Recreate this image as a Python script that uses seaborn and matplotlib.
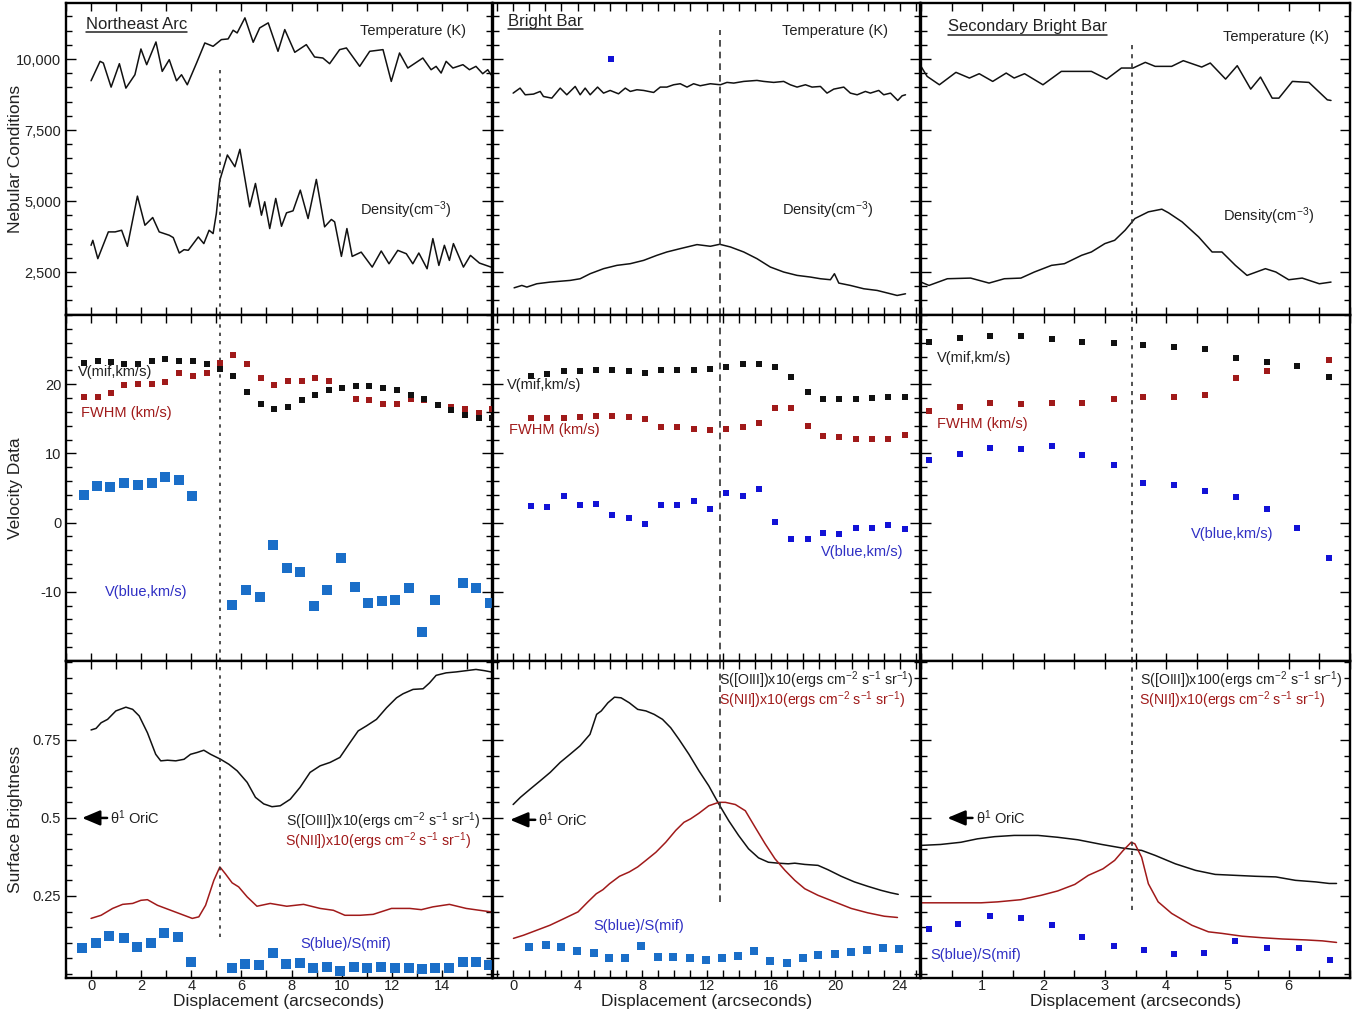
import matplotlib
matplotlib.use("Agg")
import matplotlib.pyplot as plt
import seaborn as sns
from matplotlib.ticker import MultipleLocator, FixedLocator, FuncFormatter
from matplotlib.lines import Line2D

# ---------------- data ----------------
# Row 1: nebular conditions
ne_temp_x = [0, 0.36, 0.49, 0.8, 1.13, 1.39, 1.75, 1.99, 2.22, 2.59, 2.84, 3.12, 3.41, 3.61, 3.84, 4.21, 4.54, 4.87, 5.2, 5.47,
             5.67, 5.83, 6.14, 6.47, 6.73, 7.07, 7.46, 7.73, 8.13, 8.59, 8.92, 9.25, 9.52, 9.92, 10.19, 10.72, 11.12, 11.65, 11.98, 12.31,
             12.64, 13.24, 13.57, 13.77, 13.97, 14.17, 14.44, 14.84, 15.1, 15.36, 15.63, 15.83, 15.96]
ne_temp_y = [9234, 9918, 9859, 9010, 9835, 8975, 9446, 10353, 9800, 10600, 9564, 9976, 9234, 9446, 9093, 9858, 10565, 10447, 10683, 10707,
             11013, 10918, 11449, 10589, 11095, 11272, 10271, 11036, 10236, 10506, 10071, 10035, 9835, 10330, 10389, 9741, 10271, 10330, 9211, 10212,
             9682, 10035, 9623, 9741, 9505, 9918, 9682, 9800, 9623, 9741, 9482, 9623, 9446]
ne_dens_x = [0, 0.07, 0.27, 0.69, 0.96, 1.22, 1.45, 1.85, 2.15, 2.46, 2.72, 3.12, 3.28, 3.52, 3.71, 3.88, 4.28, 4.5, 4.71, 4.87,
             5.0, 5.14, 5.44, 5.74, 5.94, 6.33, 6.56, 6.8, 6.93, 7.13, 7.37, 7.6, 7.8, 8.06, 8.35, 8.66, 8.99, 9.32, 9.59, 9.72,
             9.99, 10.21, 10.42, 10.78, 11.22, 11.58, 11.89, 12.24, 12.58, 12.84, 13.08, 13.41, 13.64, 13.88, 14.1, 14.3, 14.46, 14.86, 15.14, 15.5,
             15.96]
ne_dens_y = [3439, 3615, 2970, 3912, 3912, 3970, 3404, 5172, 4146, 4418, 3912, 3794, 3712, 3168, 3286, 3264, 3735, 3500, 3970, 3853,
             4560, 5735, 6620, 6207, 6820, 4795, 5618, 4500, 4972, 4030, 5090, 4110, 4583, 4654, 5383, 4382, 5760, 4090, 4350, 4265,
             3050, 4030, 3050, 3200, 2673, 3240, 2790, 3262, 3144, 2790, 3168, 2614, 3676, 2732, 3440, 2908, 3500, 2673, 3085, 2814,
             2673]

bb_temp_x = [0.0, 0.43, 0.75, 1.26, 1.68, 1.88, 2.4, 2.92, 3.33, 3.85, 4.16, 4.47, 4.78, 5.24, 5.61, 6.02, 6.54, 6.96, 7.27, 7.68,
             8.1, 8.72, 9.13, 9.54, 9.96, 10.37, 10.79, 11.2, 11.61, 12.24, 12.86, 13.27, 13.69, 14.31, 15.13, 15.55, 16.17, 16.79, 17.2, 17.62,
             18.14, 18.55, 19.07, 19.48, 19.9, 20.52, 20.93, 21.35, 21.86, 22.17, 22.69, 23.0, 23.42, 23.87, 24.14, 24.35]
bb_temp_y = [8799, 8975, 8740, 8764, 8858, 8681, 8622, 8975, 8740, 9034, 8740, 8975, 8740, 9011, 8799, 8893, 8775, 8975, 8858, 8917,
             8893, 8822, 9011, 9011, 9093, 9129, 9011, 9129, 9058, 9129, 9093, 9176, 9152, 9211, 9246, 9211, 9176, 9211, 9093, 9011,
             9093, 9011, 9034, 8799, 8940, 9011, 8799, 8740, 8858, 8799, 8893, 8740, 8799, 8540, 8705, 8740]
bb_dens_x = [0.06, 0.54, 0.85, 1.47, 2.3, 3.54, 4.16, 4.78, 5.61, 6.44, 7.27, 8.1, 8.92, 9.54, 10.37, 11.41, 12.24, 12.82, 13.48, 14.31,
             15.13, 15.96, 16.79, 17.62, 18.45, 19.07, 19.69, 19.94, 20.21, 20.93, 21.76, 22.59, 23.42, 23.83, 24.35]
bb_dens_y = [1943, 2027, 1969, 2086, 2145, 2204, 2263, 2440, 2617, 2734, 2793, 2910, 3087, 3205, 3323, 3465, 3406, 3476, 3382, 3205,
             2970, 2675, 2499, 2381, 2322, 2263, 2228, 2440, 2110, 2027, 1910, 1851, 1733, 1674, 1733]
bb_stray_x = [6.09]
bb_stray_y = [10000]

sb_temp_x = [0.0, 0.1, 0.3, 0.57, 0.79, 0.95, 1.17, 1.39, 1.52, 1.69, 1.99, 2.29, 2.56, 2.78, 3.03, 3.27, 3.46, 3.66, 3.82, 4.09,
             4.28, 4.58, 4.72, 4.97, 5.16, 5.38, 5.54, 5.73, 5.84, 6.06, 6.33, 6.63, 6.69]
sb_temp_y = [9741, 9388, 9093, 9530, 9329, 9482, 9211, 9505, 9330, 9482, 9093, 9564, 9564, 9564, 9293, 9682, 9682, 9882, 9741, 9741,
             9941, 9717, 9858, 9293, 9764, 8940, 9364, 8622, 8622, 9211, 9176, 8563, 8540]
sb_dens_x = [0.0, 0.13, 0.43, 0.81, 1.11, 1.36, 1.63, 1.85, 2.13, 2.34, 2.62, 2.78, 3.0, 3.16, 3.33, 3.49, 3.71, 3.93, 4.04, 4.26,
             4.53, 4.75, 4.91, 5.13, 5.32, 5.62, 5.79, 6.0, 6.22, 6.5, 6.69]
sb_dens_y = [2145, 2027, 2263, 2286, 2110, 2263, 2286, 2500, 2734, 2793, 3087, 3205, 3500, 3617, 3970, 4382, 4618, 4712, 4583, 4265,
             3735, 3205, 3205, 2734, 2380, 2617, 2500, 2227, 2286, 2086, 2145]

# Row 2: velocity data
ne_v_x = [-0.27, 0.27, 0.8, 1.33, 1.86, 2.42, 2.96, 3.52, 4.05, 4.61, 5.15, 5.68, 6.24, 6.77, 7.3, 7.86, 8.41, 8.94, 9.5, 10.03,
          10.56, 11.1, 11.66, 12.19, 12.75, 13.28, 13.84, 14.38, 14.91, 15.47, 16.0]
ne_vmif_y = [23.07, 23.3, 23.2, 22.97, 22.9, 23.3, 23.7, 23.3, 23.3, 22.97, 22.2, 21.2, 18.9, 17.1, 16.4, 16.7, 17.7, 18.5, 19.2, 19.5,
             19.76, 19.7, 19.4, 19.1, 18.5, 17.9, 17.0, 16.26, 15.54, 15.06, 15.06]
ne_fwhm_y = [18.18, 18.18, 18.75, 19.86, 20.0, 20.1, 20.34, 21.6, 21.2, 21.6, 23.07, 24.17, 22.97, 20.9, 19.86, 20.43, 20.43, 20.9, 20.43, 19.5,
             17.8, 17.7, 17.2, 17.1, 17.8, 17.7, 17.0, 16.7, 16.45, 15.9, 16.45]
ne_vblue_x = [-0.3, 0.24, 0.77, 1.33, 1.86, 2.42, 2.96, 3.49, 4.02, 5.64, 6.2, 6.73, 7.28, 7.81, 8.34, 8.9, 9.43, 9.96, 10.52, 11.06,
              11.6, 12.12, 12.68, 13.21, 13.74, 14.85, 15.38, 15.91]
ne_vblue_y = [4.04, 5.34, 5.14, 5.72, 5.38, 5.72, 6.58, 6.15, 3.8, -11.9, -9.76, -10.8, -3.3, -6.6, -7.08, -12.0, -9.76, -5.16, -9.28, -11.6,
              -11.4, -11.15, -9.47, -15.8, -11.15, -8.66, -9.47, -11.6]

bb_v_x = [1.1, 2.13, 3.13, 4.12, 5.16, 6.15, 7.16, 8.16, 9.17, 10.17, 11.2, 12.2, 13.23, 14.24, 15.24, 16.27, 17.25, 18.28, 19.23, 20.25,
          21.26, 22.28, 23.27, 24.29]
bb_vmif_y = [21.15, 21.53, 21.87, 21.87, 22.1, 22.0, 21.87, 21.63, 22.1, 22.1, 22.0, 22.16, 22.49, 22.97, 22.97, 22.49, 21.05, 18.9, 17.84, 17.84,
             17.84, 17.99, 18.18, 18.18]
bb_fwhm_y = [15.16, 15.16, 15.06, 15.3, 15.45, 15.45, 15.3, 14.92, 13.87, 13.87, 13.53, 13.39, 13.53, 13.87, 14.35, 16.6, 16.6, 14.0, 12.52, 12.33,
             12.14, 12.14, 12.14, 12.62]
bb_vblue_y = [2.46, 2.22, 3.8, 2.6, 2.7, 1.07, 0.69, -0.17, 2.6, 2.6, 3.08, 1.98, 4.28, 3.9, 4.9, 0.11, -2.43, -2.43, -1.47, -1.6,
              -0.84, -0.84, -0.41, -0.99]

sb_v_x = [0.13, 0.63, 1.13, 1.63, 2.13, 2.63, 3.15, 3.63, 4.13, 4.63, 5.14, 5.65, 6.14, 6.65]
sb_vmif_y = [26.09, 26.7, 26.9, 26.9, 26.56, 26.09, 25.94, 25.6, 25.37, 25.13, 23.83, 23.2, 22.64, 21.05]
sb_fwhm_y = [16.17, 16.74, 17.32, 17.12, 17.32, 17.32, 17.8, 18.08, 18.18, 18.51, 20.86, 21.96, 22.64, 23.45]
sb_vblue_y = [8.98, 9.89, 10.85, 10.6, 11.13, 9.79, 8.31, 5.77, 5.48, 4.52, 3.71, 1.98, -0.84, -5.06]

# Row 3: surface brightness
ne_oiii_x = [0, 0.2, 0.4, 0.66, 0.99, 1.39, 1.66, 1.92, 2.25, 2.58, 2.78, 3.05, 3.38, 3.71, 3.97, 4.24, 4.5, 4.77, 5.17, 5.5,
             5.83, 6.23, 6.56, 6.89, 7.22, 7.55, 7.95, 8.34, 8.74, 9.14, 9.54, 9.93, 10.33, 10.66, 10.99, 11.39, 11.79, 12.19, 12.45, 12.85,
             13.25, 13.51, 13.77, 14.17, 14.57, 14.97, 15.36, 15.7, 15.96]
ne_oiii_y = [0.782, 0.787, 0.805, 0.816, 0.843, 0.855, 0.848, 0.827, 0.773, 0.704, 0.683, 0.685, 0.683, 0.688, 0.704, 0.71, 0.717, 0.704, 0.688, 0.672,
             0.651, 0.614, 0.566, 0.545, 0.536, 0.539, 0.56, 0.598, 0.646, 0.667, 0.678, 0.694, 0.741, 0.779, 0.795, 0.816, 0.853, 0.885, 0.898, 0.912,
             0.914, 0.933, 0.957, 0.965, 0.968, 0.972, 0.976, 0.972, 0.968]
ne_nii_x = [0, 0.4, 0.86, 1.26, 1.66, 1.99, 2.25, 2.65, 3.18, 3.71, 4.04, 4.3, 4.57, 4.9, 5.14, 5.36, 5.63, 5.89, 6.23, 6.62,
            7.15, 7.81, 8.48, 9.14, 9.67, 10.13, 10.73, 11.26, 11.99, 12.72, 13.18, 13.64, 14.3, 14.97, 15.5, 15.96]
ne_nii_y = [0.178, 0.188, 0.21, 0.223, 0.226, 0.236, 0.238, 0.22, 0.204, 0.188, 0.178, 0.183, 0.22, 0.3, 0.343, 0.321, 0.292, 0.279, 0.247, 0.217,
            0.226, 0.217, 0.223, 0.21, 0.204, 0.188, 0.188, 0.191, 0.21, 0.21, 0.206, 0.215, 0.223, 0.21, 0.204, 0.199]
ne_ratio_x = [-0.36, 0.2, 0.73, 1.3, 1.83, 2.38, 2.91, 3.47, 4.0, 5.63, 6.16, 6.69, 7.25, 7.79, 8.32, 8.87, 9.4, 9.93, 10.5, 11.03,
              11.59, 12.12, 12.68, 13.22, 13.74, 14.3, 14.83, 15.36, 15.89]
ne_ratio_y = [0.084, 0.098, 0.121, 0.114, 0.087, 0.098, 0.132, 0.117, 0.039, 0.018, 0.031, 0.029, 0.066, 0.032, 0.034, 0.018, 0.023, 0.011, 0.021, 0.018,
              0.023, 0.02, 0.018, 0.015, 0.02, 0.02, 0.039, 0.039, 0.029]

bb_oiii_x = [0, 0.45, 1.07, 1.68, 2.3, 2.92, 3.53, 4.15, 4.77, 5.18, 5.47, 5.88, 6.29, 6.7, 7.21, 7.73, 8.24, 8.75, 9.27, 9.78,
             10.29, 10.91, 11.53, 12.14, 12.76, 13.38, 13.99, 14.61, 15.23, 15.84, 16.46, 17.07, 17.48, 18.1, 18.92, 19.54, 20.36, 21.18, 22.0, 22.83,
             23.44, 23.9]
bb_oiii_y = [0.543, 0.566, 0.593, 0.619, 0.646, 0.678, 0.704, 0.731, 0.768, 0.832, 0.843, 0.869, 0.887, 0.885, 0.869, 0.848, 0.843, 0.832, 0.816, 0.789,
             0.752, 0.704, 0.651, 0.603, 0.545, 0.491, 0.444, 0.401, 0.372, 0.358, 0.355, 0.353, 0.355, 0.351, 0.348, 0.334, 0.313, 0.295, 0.281, 0.268,
             0.26, 0.255]
bb_nii_x = [0.02, 0.64, 1.46, 2.28, 3.1, 4.03, 4.64, 5.16, 5.57, 5.98, 6.6, 7.21, 7.73, 8.24, 8.86, 9.47, 10.09, 10.6, 11.01, 11.53,
            12.14, 12.76, 13.17, 13.79, 14.41, 15.02, 15.64, 16.25, 16.87, 17.48, 18.1, 18.92, 19.95, 20.98, 22.0, 23.03, 23.85]
bb_nii_y = [0.114, 0.124, 0.14, 0.156, 0.176, 0.199, 0.231, 0.257, 0.27, 0.289, 0.313, 0.327, 0.343, 0.364, 0.39, 0.422, 0.46, 0.486, 0.497, 0.515,
            0.539, 0.55, 0.55, 0.543, 0.523, 0.47, 0.417, 0.369, 0.332, 0.3, 0.273, 0.252, 0.231, 0.21, 0.196, 0.185, 0.181]
bb_ratio_x = [0.99, 2.01, 2.96, 3.97, 4.99, 5.98, 6.94, 7.93, 8.96, 9.94, 10.95, 11.94, 12.97, 13.95, 14.96, 15.94, 16.97, 17.96, 18.92, 19.95,
              20.94, 21.94, 22.93, 23.96]
bb_ratio_y = [0.085, 0.093, 0.087, 0.073, 0.066, 0.052, 0.05, 0.089, 0.055, 0.055, 0.052, 0.045, 0.052, 0.059, 0.074, 0.043, 0.034, 0.05, 0.061, 0.064,
              0.069, 0.077, 0.082, 0.08]

sb_oiii_x = [0.0, 0.32, 0.65, 0.92, 1.2, 1.52, 1.91, 2.23, 2.56, 2.95, 3.27, 3.6, 3.82, 4.15, 4.48, 4.8, 5.13, 5.46, 5.79, 6.11,
             6.44, 6.66, 6.78]
sb_oiii_y = [0.412, 0.415, 0.422, 0.433, 0.44, 0.444, 0.444, 0.438, 0.43, 0.415, 0.404, 0.396, 0.38, 0.353, 0.332, 0.319, 0.316, 0.313, 0.311, 0.3,
             0.295, 0.29, 0.29]
sb_nii_x = [0.0, 0.43, 0.98, 1.25, 1.63, 1.96, 2.23, 2.51, 2.73, 2.97, 3.16, 3.3, 3.43, 3.49, 3.6, 3.71, 3.87, 4.09, 4.42, 4.69,
            4.91, 5.24, 5.57, 5.9, 6.28, 6.55, 6.78]
sb_nii_y = [0.228, 0.228, 0.228, 0.231, 0.238, 0.252, 0.266, 0.287, 0.316, 0.337, 0.364, 0.396, 0.422, 0.417, 0.374, 0.289, 0.231, 0.194, 0.156, 0.135,
            0.13, 0.121, 0.116, 0.112, 0.109, 0.106, 0.101]
sb_ratio_x = [0.13, 0.61, 1.13, 1.63, 2.14, 2.62, 3.15, 3.64, 4.13, 4.62, 5.13, 5.65, 6.17, 6.68]
sb_ratio_y = [0.143, 0.16, 0.185, 0.178, 0.156, 0.117, 0.089, 0.077, 0.063, 0.068, 0.106, 0.084, 0.082, 0.045]

# region labels, axis labels and tick labels
region_names = ["Northeast Arc", "Bright Bar", "Secondary Bright Bar"]
row_labels = ["Nebular Conditions", "Velocity Data", "Surface Brightness"]
x_label = "Displacement (arcseconds)"
x_ticks = [[0, 2, 4, 6, 8, 10, 12, 14], [0, 4, 8, 12, 16, 20, 24], [1, 2, 3, 4, 5, 6]]
y_ticks = [[2500, 5000, 7500, 10000], [-10, 0, 10, 20], [0.25, 0.5, 0.75]]
ionization_front_x = [5.15, 12.86, 3.44]
front_row1_top = [9790, 11020, 10669]
front_row3_bottom = [0.119, 0.231, 0.204]
oiii_scale = ["10", "10", "100"]

# ---------------- style ----------------
sns.set_theme(style="ticks")
plt.rcParams["font.family"] = ["Liberation Sans", "DejaVu Sans"]
plt.rcParams["mathtext.fontset"] = "custom"
plt.rcParams["mathtext.rm"] = "Liberation Sans"
plt.rcParams["mathtext.it"] = "Liberation Sans:italic"
plt.rcParams["mathtext.bf"] = "Liberation Sans:bold"
plt.rcParams["mathtext.default"] = "regular"
plt.rcParams["axes.unicode_minus"] = False

BLACK = "#111111"
RED = "#a01a1a"
BLUE_L = "#1a6ec8"
BLUE_D = "#1212d6"
BLUE_T = "#2f2fc4"

W, H = 1367, 1019
fig = plt.figure(figsize=(W / 100, H / 100), dpi=100)
col_l = [66, 493, 921]
col_r = [492, 920, 1350]
row_t = [3, 315, 661]
row_b = [315, 661, 978]
xlims = [(-1.0, 16.0), (-1.25, 25.25), (0.0, 7.0)]
xminor = [1, 1, 0.5]
ylims = [(986, 11972), (-20, 30), (-0.013, 1.003)]
yminor = [500, 2, 0.05]
front_styles = [(0, (2, 3)), (0, (4, 3)), (0, (2.5, 3))]

axes = []
for r in range(3):
    row = []
    for c in range(3):
        ax = fig.add_axes([col_l[c] / W, 1 - row_b[r] / H, (col_r[c] - col_l[c]) / W, (row_b[r] - row_t[r]) / H])
        ax.set_xlim(*xlims[c])
        ax.set_ylim(*ylims[r])
        ax.xaxis.set_major_locator(FixedLocator(x_ticks[c]))
        ax.xaxis.set_minor_locator(MultipleLocator(xminor[c]))
        ax.yaxis.set_major_locator(FixedLocator(y_ticks[r]))
        ax.yaxis.set_minor_locator(MultipleLocator(yminor[r]))
        ax.tick_params(axis="both", which="both", direction="in", top=True, right=True, colors="black", width=1.0)
        ax.tick_params(axis="x", which="both", length=6, pad=1.0)
        ax.tick_params(axis="y", which="major", length=7.5)
        ax.tick_params(axis="y", which="minor", length=4.5)
        ax.tick_params(labelsize=10.5, labelcolor="#222222")
        for s in ax.spines.values():
            s.set_linewidth(1.7)
            s.set_color("black")
        if r == 0:
            ax.yaxis.set_major_formatter(FuncFormatter(lambda v, p: f"{int(v):,}"))
        elif r == 2:
            ax.yaxis.set_major_formatter(FuncFormatter(lambda v, p: f"{v:g}"))
        if c != 0:
            ax.tick_params(labelleft=False)
        else:
            ax.set_ylabel(row_labels[r], fontsize=12.5, color="#222222")
            ax.yaxis.set_label_coords(-0.10, 0.5)
        if r != 2:
            ax.tick_params(labelbottom=False)
        else:
            ax.set_xlabel(x_label, fontsize=12.5, color="#222222")
            ax.xaxis.set_label_coords(0.5, -0.052)
        ax.set_facecolor("white")
        row.append(ax)
    axes.append(row)

LW = 1.1
FS = 10.5


def curve(ax, x, y, color):
    sns.lineplot(x=x, y=y, ax=ax, color=color, lw=LW, sort=False, estimator=None, legend=False)


def squares(ax, x, y, color, size):
    sns.scatterplot(x=x, y=y, ax=ax, color=color, marker="s", s=size, linewidth=0, legend=False, zorder=3)


# ---- Row 1 ----
curve(axes[0][0], ne_temp_x, ne_temp_y, BLACK)
curve(axes[0][0], ne_dens_x, ne_dens_y, BLACK)
curve(axes[0][1], bb_temp_x, bb_temp_y, BLACK)
curve(axes[0][1], bb_dens_x, bb_dens_y, BLACK)
squares(axes[0][1], bb_stray_x, bb_stray_y, BLUE_D, 22)
curve(axes[0][2], sb_temp_x, sb_temp_y, BLACK)
curve(axes[0][2], sb_dens_x, sb_dens_y, BLACK)

# ---- Row 2 ----
squares(axes[1][0], ne_v_x, ne_fwhm_y, RED, 20)
squares(axes[1][0], ne_v_x, ne_vmif_y, BLACK, 20)
squares(axes[1][0], ne_vblue_x, ne_vblue_y, BLUE_L, 42)
squares(axes[1][1], bb_v_x, bb_fwhm_y, RED, 20)
squares(axes[1][1], bb_v_x, bb_vmif_y, BLACK, 20)
squares(axes[1][1], bb_v_x, bb_vblue_y, BLUE_D, 20)
squares(axes[1][2], sb_v_x, sb_fwhm_y, RED, 20)
squares(axes[1][2], sb_v_x, sb_vmif_y, BLACK, 20)
squares(axes[1][2], sb_v_x, sb_vblue_y, BLUE_D, 20)

# ---- Row 3 ----
curve(axes[2][0], ne_oiii_x, ne_oiii_y, BLACK)
curve(axes[2][0], ne_nii_x, ne_nii_y, RED)
squares(axes[2][0], ne_ratio_x, ne_ratio_y, BLUE_L, 42)
curve(axes[2][1], bb_oiii_x, bb_oiii_y, BLACK)
curve(axes[2][1], bb_nii_x, bb_nii_y, RED)
squares(axes[2][1], bb_ratio_x, bb_ratio_y, BLUE_L, 40)
curve(axes[2][2], sb_oiii_x, sb_oiii_y, BLACK)
curve(axes[2][2], sb_nii_x, sb_nii_y, RED)
squares(axes[2][2], sb_ratio_x, sb_ratio_y, BLUE_D, 22)

# ---- ionization-front marker lines ----
for c in range(3):
    xf = ionization_front_x[c]
    ls = front_styles[c]
    axes[0][c].vlines(xf, ylims[0][0], front_row1_top[c], colors="#333333", linestyles=ls, lw=1.2)
    axes[1][c].vlines(xf, ylims[1][0], ylims[1][1], colors="#333333", linestyles=ls, lw=1.2)
    axes[2][c].vlines(xf, front_row3_bottom[c], ylims[2][1], colors="#333333", linestyles=ls, lw=1.2)

# ---- text annotations ----
title_pos = [(-0.2, 11232), (-0.31, 11338), (0.44, 11127)]
temp_pos = [(10.72, 10986), (16.71, 10986), (4.92, 10775)]
dens_pos = [(10.72, 4683), (16.71, 4683), (4.92, 4472)]
titles = []
for c in range(3):
    t = axes[0][c].text(*title_pos[c], region_names[c], fontsize=12, color="#222222", ha="left", va="center")
    titles.append(t)
    axes[0][c].text(*temp_pos[c], "Temperature (K)", fontsize=FS, color="#222222", ha="left", va="center")
    axes[0][c].text(*dens_pos[c], "Density(cm$^{-3}$)", fontsize=FS, color="#222222", ha="left", va="center")

vmif_pos = [(-0.52, 21.73), (-0.37, 19.86), (0.26, 23.75)]
fwhm_pos = [(-0.4, 15.8), (-0.25, 13.36), (0.26, 14.2)]
vblue_pos = [(0.56, -10.0), (19.13, -4.24), (4.41, -1.65)]
for c in range(3):
    axes[1][c].text(*vmif_pos[c], "V(mif,km/s)", fontsize=FS, color="#222222", ha="left", va="center")
    axes[1][c].text(*fwhm_pos[c], "FWHM (km/s)", fontsize=FS, color=RED, ha="left", va="center")
    axes[1][c].text(*vblue_pos[c], "V(blue,km/s)", fontsize=FS, color=BLUE_T, ha="left", va="center")

oiii_pos = [(7.77, 0.490), (12.8, 0.942), (3.57, 0.942)]
nii_pos = [(7.73, 0.425), (12.8, 0.876), (3.56, 0.876)]
ratio_pos = [(8.37, 0.096), (4.97, 0.154), (0.16, 0.061)]
arrow_tip = [(-0.36, 0.5), (-0.19, 0.494), (0.43, 0.5)]
arrow_tail = [(0.64, 0.5), (1.37, 0.494), (0.84, 0.5)]
oric_pos = [(0.76, 0.5), (1.55, 0.494), (0.9, 0.5)]
for c in range(3):
    ax = axes[2][c]
    ax.text(*oiii_pos[c], "S([OIII])x" + oiii_scale[c] + "(ergs cm$^{-2}$ s$^{-1}$ sr$^{-1}$)", fontsize=10.2,
            color="#222222", ha="left", va="center")
    ax.text(*nii_pos[c], "S(NII])x10(ergs cm$^{-2}$ s$^{-1}$ sr$^{-1}$)", fontsize=10.2, color=RED, ha="left", va="center")
    ax.text(*ratio_pos[c], "S(blue)/S(mif)", fontsize=FS, color=BLUE_T, ha="left", va="center")
    ax.annotate("", xy=arrow_tip[c], xytext=arrow_tail[c],
                arrowprops=dict(arrowstyle="-|>,head_length=0.9,head_width=0.38", color="black", lw=1.8,
                                shrinkA=0, shrinkB=0))
    ax.text(*oric_pos[c], "θ$^{1}$ OriC", fontsize=FS, color="#222222", ha="left", va="center")

# underline the region names
fig.canvas.draw()
renderer = fig.canvas.get_renderer()
for t in titles:
    bb = t.get_window_extent(renderer)
    yc = (bb.y0 + bb.y1) / 2 - 8
    fig.add_artist(Line2D([bb.x0 / W, bb.x1 / W], [yc / H, yc / H], transform=fig.transFigure,
                          color="#222222", lw=1.1))

fig.savefig("out.png", dpi=100, facecolor="white")
